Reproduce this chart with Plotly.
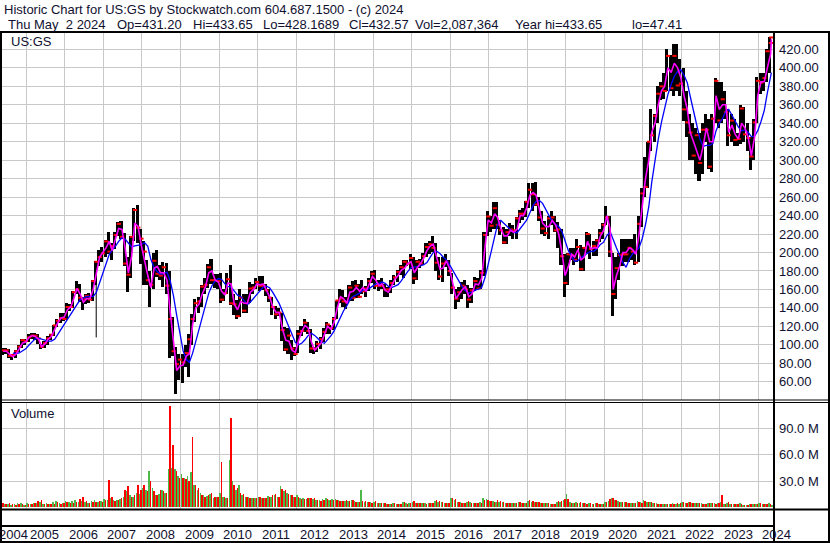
import pandas as pd
import plotly.graph_objects as go

# ---------------- data (monthly, May 2004 .. May 2024) ----------------
months = pd.date_range("2004-05-01", "2024-05-01", freq="MS")

high = [
    97, 97, 95, 90, 94, 100, 106, 106,
    112, 113, 113, 112, 101, 104, 110, 112, 122, 128, 134, 134,
    145, 144, 158, 169, 166, 152, 155, 156, 170, 191, 203, 206,
    214, 222, 210, 222, 233, 234, 221, 195, 218, 248, 251, 225,
    212, 192, 180, 199, 203, 187, 190, 189, 180, 130, 98, 90,
    90, 100, 112, 133, 150, 152, 165, 172, 188, 193, 177, 177,
    178, 160, 178, 186, 155, 149, 160, 155, 155, 168, 166, 172,
    175, 175, 166, 160, 152, 142, 140, 135, 119, 118, 105, 98,
    116, 120, 128, 125, 117, 98, 104, 108, 118, 125, 122, 130,
    148, 160, 159, 152, 165, 169, 170, 166, 170, 164, 172, 180,
    181, 170, 172, 166, 163, 170, 176, 181, 187, 192, 192, 198,
    195, 192, 193, 200, 210, 213, 218, 210, 195, 195, 198, 192,
    178, 160, 163, 168, 170, 165, 162, 173, 172, 181, 222, 245,
    240, 255, 255, 235, 228, 225, 232, 230, 238, 246, 248, 256,
    275, 275, 276, 260, 245, 234, 240, 245, 240, 233, 226, 198,
    200, 205, 205, 215, 208, 206, 222, 220, 212, 215, 225, 232,
    250, 240, 200, 195, 200, 215, 215, 215, 215, 220, 240, 270,
    303, 320, 356, 350, 380, 385, 395, 420, 414, 426, 426, 410,
    400, 375, 350, 340, 335, 330, 340, 350, 345, 350, 389, 385,
    385, 375, 355, 350, 345, 330, 360, 358, 340, 325, 345, 390,
    395, 395, 420, 434, 434,
]
low = [
    89, 90, 86, 84, 86, 92, 97, 100,
    103, 106, 105, 101, 95, 96, 100, 105, 110, 119, 124, 126,
    127, 137, 140, 155, 146, 138, 144, 145, 147, 165, 185, 190,
    195, 198, 192, 204, 218, 215, 185, 157, 172, 212, 210, 188,
    165, 165, 141, 160, 173, 170, 163, 155, 86, 88, 47, 62,
    59, 76, 65, 100, 125, 135, 141, 155, 162, 166, 162, 160,
    145, 147, 155, 143, 132, 128, 130, 134, 134, 145, 155, 160,
    158, 159, 153, 146, 132, 128, 131, 104, 93, 90, 84, 88,
    91, 110, 114, 112, 91, 90, 92, 95, 103, 112, 112, 116,
    128, 145, 141, 139, 147, 148, 151, 151, 155, 152, 158, 167,
    160, 158, 160, 152, 152, 156, 165, 168, 176, 172, 185, 182,
    166, 170, 183, 186, 195, 198, 201, 180, 170, 168, 184, 175,
    155, 139, 146, 150, 155, 140, 145, 158, 159, 160, 175, 218,
    222, 226, 226, 219, 209, 209, 218, 215, 215, 232, 235, 238,
    248, 245, 250, 234, 220, 218, 215, 230, 222, 205, 186, 152,
    165, 192, 186, 190, 180, 180, 200, 193, 196, 196, 211, 215,
    230, 195, 131, 150, 170, 185, 190, 190, 192, 186, 190, 228,
    260, 270, 310, 320, 340, 365, 366, 375, 375, 370, 375, 370,
    343, 325, 300, 300, 285, 278, 285, 320, 290, 287, 340, 335,
    340, 345, 315, 320, 315, 315, 318, 320, 310, 289, 300, 340,
    372, 375, 385, 395, 428,
]
close = [
    94, 94, 88, 89, 93, 98, 105, 104,
    108, 110, 110, 107, 98, 102, 107, 111, 121, 126, 129, 128,
    141, 141, 157, 160, 151, 150, 153, 149, 169, 190, 195, 199,
    212, 201, 207, 219, 231, 217, 188, 176, 217, 246, 227, 215,
    201, 170, 165, 191, 177, 175, 184, 164, 128, 93, 79, 84,
    81, 91, 106, 128, 145, 147, 163, 165, 184, 170, 170, 169,
    149, 156, 171, 145, 144, 131, 151, 137, 145, 161, 162, 168,
    164, 164, 159, 151, 141, 133, 135, 116, 95, 110, 96, 90,
    112, 115, 124, 115, 96, 96, 101, 106, 114, 122, 118, 128,
    148, 150, 147, 146, 162, 151, 164, 152, 158, 161, 169, 177,
    164, 164, 164, 160, 160, 167, 173, 179, 184, 190, 188, 194,
    172, 190, 188, 196, 206, 209, 205, 189, 174, 188, 190, 180,
    162, 150, 157, 164, 160, 149, 159, 169, 161, 178, 219, 239,
    229, 248, 230, 224, 211, 222, 225, 224, 237, 242, 242, 255,
    268, 263, 252, 238, 226, 221, 237, 238, 224, 225, 196, 167,
    198, 197, 192, 206, 182, 205, 220, 204, 207, 213, 221, 230,
    238, 201, 155, 183, 197, 198, 198, 205, 201, 189, 231, 264,
    271, 320, 327, 348, 372, 380, 375, 413, 378, 413, 381, 383,
    355, 341, 330, 305, 327, 297, 333, 333, 293, 345, 386, 343,
    366, 352, 327, 343, 322, 323, 356, 328, 324, 304, 341, 386,
    384, 389, 418, 427, 433,
]
# short moving average (magenta)
ma_short = [
    93, 93, 90, 87, 90, 96, 102, 103,
    108, 110, 109, 106, 98, 101, 106, 109, 116, 124, 129, 130,
    138, 141, 150, 161, 155, 146, 150, 150, 160, 178, 195, 200,
    205, 212, 202, 215, 226, 225, 205, 178, 196, 232, 228, 208,
    190, 175, 162, 183, 185, 178, 178, 170, 135, 105, 72, 77,
    78, 88, 90, 122, 140, 144, 155, 163, 178, 180, 170, 168,
    158, 154, 167, 166, 144, 138, 147, 145, 145, 157, 160, 166,
    165, 166, 160, 152, 141, 135, 135, 117, 105, 104, 94, 92,
    105, 115, 121, 118, 103, 94, 98, 102, 111, 120, 117, 124,
    140, 152, 150, 145, 157, 158, 162, 158, 162, 158, 166, 174,
    170, 164, 166, 159, 157, 164, 171, 175, 181, 183, 188, 190,
    178, 184, 188, 194, 202, 207, 209, 195, 182, 183, 191, 183,
    165, 150, 155, 160, 163, 152, 155, 166, 165, 172, 205, 235,
    232, 242, 238, 226, 218, 218, 224, 222, 225, 240, 240, 248,
    262, 265, 262, 245, 232, 228, 228, 235, 230, 220, 200, 175,
    185, 198, 195, 203, 192, 195, 212, 204, 205, 205, 218, 224,
    240, 225, 160, 175, 185, 200, 200, 205, 203, 198, 220, 250,
    280, 300, 330, 340, 360, 375, 380, 400, 395, 405, 400, 390,
    370, 355, 330, 320, 310, 300, 315, 335, 320, 320, 370, 355,
    360, 360, 330, 338, 328, 323, 340, 335, 325, 305, 325, 370,
    385, 385, 400, 415, 431,
]
# long moving average (blue), from Aug 2004
ma_long = [
    91, 90.6, 91.2, 93, 95.6,
    99.8, 103.8, 106.4, 107.2, 106.2, 104.8, 104, 104, 106, 111.2, 116.8, 121.6,
    127.4, 132.4, 137.6, 144, 149, 150.6, 152.4, 152.4, 152.2, 156.8, 166.6, 176.6,
    187.6, 198, 202.8, 206.8, 212, 216, 214.6, 209.8, 206, 207.2, 207.8, 208.4,
    210.8, 206.6, 192.6, 183.6, 179, 176.6, 177.2, 178.8, 169.2, 153.2, 132, 111.8,
    93.4, 84, 81, 91, 103.6, 116.8, 130.2, 144.8, 156, 164, 169.2, 171.8,
    170.8, 166, 163.4, 162.6, 157.8, 153.8, 152.4, 148, 143.8, 146.4, 150.8, 154.6,
    158.6, 162.8, 163.4, 161.8, 156.8, 150.8, 144.6, 136, 126.6, 119.2, 111, 102.4,
    100, 102, 105.4, 110.2, 112.4, 110.2, 106.8, 103, 101.6, 105, 109.6, 114.8,
    122.4, 130.6, 136.6, 142.2, 148.8, 152.4, 154.4, 156, 159.4, 159.6, 161.2, 163.6,
    166, 166.4, 168, 166.6, 163.2, 162, 163.4, 165.2, 169.6, 174.8, 179.6, 183.4,
    184, 184.6, 185.6, 186.8, 189.2, 195, 200, 201.4, 199, 195.2, 192, 186.8,
    180.8, 174.4, 168.8, 162.6, 158.6, 156, 157, 159.2, 160.2, 162, 172.6, 188.6,
    201.8, 217.2, 230.4, 234.6, 231.2, 228.4, 224.8, 221.6, 221.4, 225.8, 230.2, 235,
    243, 251, 255.4, 256.4, 253.2, 246.4, 239, 233.6, 230.6, 228.2, 222.6, 212,
    202, 195.6, 190.6, 191.2, 194.6, 196.6, 199.4, 201.2, 201.6, 204.2, 208.8, 211.2,
    218.4, 222.4, 213.4, 204.8, 197, 189, 184, 193, 198.6, 201.2, 205.2, 215.2,
    230.2, 249.6, 276, 300, 322, 341, 357, 371, 382, 391, 396, 398,
    392, 384, 369, 353, 337, 323, 315, 316, 316, 318, 332, 340,
    345, 353, 355, 348.6, 343.2, 335.8, 331.8, 332.8, 330.2, 325.6, 326, 332,
    342, 354, 373, 391, 395,
]
# volume in millions: up days (green) and down days (red)
vol_up = [
    5, 4, 4, 3, 4, 5, 5, 3,
    5, 4, 5, 5, 6, 4, 5, 4, 6, 7, 5, 5,
    7, 6, 7, 8, 6, 7, 6, 5, 7, 8, 6, 7,
    9, 8, 10, 8, 8, 9, 12, 18, 14, 12, 16, 15,
    22, 20, 42, 22, 14, 15, 20, 16, 44, 45, 44, 36,
    38, 34, 36, 40, 26, 20, 16, 14, 13, 15, 11, 12,
    16, 12, 10, 54, 30, 20, 26, 14, 12, 12, 10, 10,
    12, 10, 10, 13, 12, 14, 12, 24, 18, 16, 14, 12,
    14, 10, 10, 9, 10, 9, 8, 8, 9, 10, 8, 9,
    9, 8, 7, 7, 7, 8, 7, 6, 20, 6, 6, 6,
    6, 5, 5, 5, 4, 4, 5, 4, 4, 6, 5, 5,
    6, 5, 5, 5, 5, 5, 5, 7, 6, 6, 5, 5,
    11, 8, 6, 6, 5, 6, 6, 5, 5, 6, 10, 9,
    7, 7, 6, 6, 6, 5, 5, 5, 5, 6, 5, 5,
    7, 6, 6, 6, 5, 5, 5, 4, 4, 6, 6, 8,
    15, 6, 5, 6, 5, 5, 5, 5, 4, 5, 4, 4,
    6, 7, 10, 8, 7, 6, 6, 5, 5, 5, 7, 6,
    8, 6, 6, 5, 5, 4, 4, 4, 4, 5, 4, 4,
    6, 5, 6, 5, 5, 5, 5, 4, 5, 5, 5, 5,
    6, 4, 5, 4, 4, 4, 5, 3, 3, 4, 4, 4,
    5, 4, 4, 5, 3,
]
vol_down = [
    5, 4, 5, 4, 3, 4, 4, 3,
    4, 4, 5, 7, 8, 4, 4, 4, 4, 6, 4, 5,
    6, 5, 5, 6, 9, 12, 7, 5, 6, 6, 7, 6,
    8, 31, 12, 7, 8, 10, 20, 24, 12, 14, 26, 20,
    25, 18, 30, 18, 14, 20, 18, 16, 116, 71, 42, 33,
    34, 32, 30, 80, 25, 22, 14, 12, 14, 16, 12, 12,
    52, 12, 10, 102, 25, 22, 16, 15, 12, 11, 10, 10,
    12, 10, 10, 12, 14, 15, 12, 21, 20, 15, 14, 12,
    12, 9, 9, 10, 11, 10, 8, 7, 8, 9, 8, 8,
    8, 7, 7, 8, 7, 8, 6, 6, 7, 7, 6, 5,
    7, 5, 5, 5, 4, 4, 5, 4, 4, 6, 4, 5,
    7, 5, 5, 5, 4, 5, 5, 8, 7, 6, 5, 5,
    10, 9, 6, 5, 5, 7, 5, 5, 5, 5, 8, 8,
    7, 6, 8, 7, 6, 5, 5, 5, 5, 6, 5, 5,
    8, 7, 6, 6, 5, 5, 5, 4, 4, 7, 7, 9,
    9, 5, 5, 5, 6, 5, 4, 5, 4, 5, 4, 4,
    6, 9, 10, 8, 6, 6, 6, 5, 5, 5, 6, 5,
    7, 6, 6, 5, 4, 4, 4, 4, 4, 4, 5, 5,
    6, 5, 6, 5, 5, 5, 4, 4, 5, 5, 4, 5,
    14, 4, 6, 4, 4, 4, 4, 3, 3, 4, 4, 4,
    5, 4, 4, 4, 3,
]
# single bad tick in Oct 2006
spike_date = ["2006-10-24"]
spike_low = [108]
spike_high = [170]

price_ticks = list(range(60, 421, 20))
vol_ticks = [30, 60, 90]
years = list(range(2004, 2025))

title_line1 = "Historic Chart for US:GS by Stockwatch.com 604.687.1500 - (c) 2024"
quote_fields = [
    ("Thu May\u00a0\u00a02 2024", 6),
    ("Op=431.20", 115),
    ("Hi=433.65", 191),
    ("Lo=428.1689", 261),
    ("Cl=432.57", 347),
    ("Vol=2,087,364", 413),
    ("Year hi=433.65", 513),
    ("lo=47.41", 630),
]

# ---------------- figure ----------------
W, H = 830, 543
FONT = "Liberation Sans, Arial, sans-serif"
TXT = "#101030"
GRID = "#c8c8c8"


def px(x):
    return x / W


def py(y):
    return 1 - y / H


DAY = 86400000
mid = [m + pd.Timedelta(days=15) for m in months]
widths = [29 * DAY] * (len(months) - 1) + [2 * DAY]
mid[-1] = pd.Timestamp("2024-05-01 12:00")
line_x = [m + pd.Timedelta(days=24) for m in months]
line_x[-1] = pd.Timestamp("2024-05-02")
close_x = [m + pd.Timedelta(days=26) for m in months]
close_x[-1] = pd.Timestamp("2024-05-02")

fig = go.Figure()

fig.add_trace(go.Bar(
    x=mid, base=low, y=[h - l for h, l in zip(high, low)], width=widths,
    marker=dict(color="black", line=dict(width=0)), xaxis="x", yaxis="y",
    hoverinfo="skip"))
fig.add_trace(go.Scatter(
    x=spike_date * 2, y=[spike_low[0], spike_high[0]], mode="lines",
    line=dict(color="black", width=1), xaxis="x", yaxis="y"))
fig.add_trace(go.Scatter(
    x=close_x, y=close, mode="markers",
    marker=dict(symbol="line-ew", size=3, line=dict(color="red", width=2)),
    xaxis="x", yaxis="y"))
fig.add_trace(go.Scatter(
    x=line_x[3:], y=ma_long, mode="lines",
    line=dict(color="#0000ff", width=1.3), xaxis="x", yaxis="y"))
fig.add_trace(go.Scatter(
    x=line_x, y=ma_short, mode="lines",
    line=dict(color="#ff00ff", width=1.6), xaxis="x", yaxis="y"))

half = 14 * DAY
fig.add_trace(go.Bar(
    x=months, y=[v * 1e6 for v in vol_up], width=half, offset=0,
    marker=dict(color="#4cb848", line=dict(width=0)), xaxis="x2", yaxis="y2"))
fig.add_trace(go.Bar(
    x=months, y=[v * 1e6 for v in vol_down], width=half, offset=half,
    marker=dict(color="#ff0000", line=dict(width=0)), xaxis="x2", yaxis="y2"))

xr = ["2004-05-14", "2024-05-27"]
xdom = [px(2), px(774)]
common_x = dict(type="date", range=xr, domain=xdom, showgrid=True,
                gridcolor=GRID, gridwidth=1, dtick="M12", tick0="2004-01-01",
                showticklabels=False, ticks="", zeroline=False, showline=False,
                fixedrange=True)

fig.update_layout(
    width=W, height=H, margin=dict(l=0, r=0, t=0, b=0),
    paper_bgcolor="white", plot_bgcolor="white", showlegend=False,
    barmode="overlay", bargap=0,
    font=dict(family=FONT, size=13, color=TXT),
    xaxis=dict(**common_x, anchor="y"),
    xaxis2=dict(**common_x, anchor="y2", matches="x"),
    xaxis3=dict(**{**common_x, "gridcolor": "black"}, anchor="y3", matches="x"),
    yaxis=dict(domain=[py(400), py(33)], range=[40.2, 437.8], side="right",
               anchor="x", tickvals=price_ticks,
               ticktext=[f"{v:.2f}" for v in price_ticks],
               showgrid=True, gridcolor=GRID, zeroline=False, ticks="",
               ticklabelstandoff=4, tickfont=dict(size=13, color=TXT),
               fixedrange=True),
    yaxis2=dict(domain=[py(509), py(402)], range=[-2.06e6, 120.5e6], side="right",
                anchor="x2", tickvals=[v * 1e6 for v in vol_ticks],
                ticktext=[f"{v:.1f} M" for v in vol_ticks],
                showgrid=True, gridcolor=GRID, zeroline=False, ticks="",
                ticklabelstandoff=4, tickfont=dict(size=13, color=TXT),
                fixedrange=True),
    yaxis3=dict(domain=[py(541), py(509)], range=[0, 1], anchor="x3",
                showgrid=False, showticklabels=False, zeroline=False,
                fixedrange=True),
)

# frame lines
lines = [
    (0, 32, W, 32, 2),
    (1, 32, 1, H, 2),
    (774, 32, 774, H, 2),
    (829, 32, 829, H, 2),
    (0, 400, W, 400, 1),
    (0, 402.5, W, 402.5, 1),
    (0, 509.5, W, 509.5, 2),
    (0, 526, 774, 526, 2),
    (0, 542, W, 542, 2),
]
for x0, y0, x1, y1, w in lines:
    fig.add_shape(type="line", xref="paper", yref="paper",
                  x0=px(x0), y0=py(y0), x1=px(x1), y1=py(y1),
                  line=dict(color="black", width=w), layer="above")

ann = []
ann.append(dict(text=title_line1, x=px(2), y=py(9.5)))
for t, xp in quote_fields:
    ann.append(dict(text=t, x=px(xp), y=py(24)))
ann.append(dict(text="US:GS", x=px(9), y=py(41.5)))
ann.append(dict(text="Volume", x=px(9), y=py(413.5)))
for a in ann:
    fig.add_annotation(xref="paper", yref="paper", xanchor="left", yanchor="middle",
                       showarrow=False, font=dict(family=FONT, size=13, color=TXT),
                       **a)
for yr in years:
    fig.add_annotation(x=f"{yr}-01-01" if yr > 2004 else "2004-05-14",
                       xref="x", y=py(534), yref="paper", xanchor="left",
                       yanchor="middle", xshift=2 if yr > 2004 else -5,
                       showarrow=False, text=str(yr),
                       font=dict(family=FONT, size=13, color=TXT))

fig.write_html(
    "out.html",
    config={"displayModeBar": False, "staticPlot": True},
    post_script="document.body.style.margin='0px';document.body.style.overflow='hidden';",
)
